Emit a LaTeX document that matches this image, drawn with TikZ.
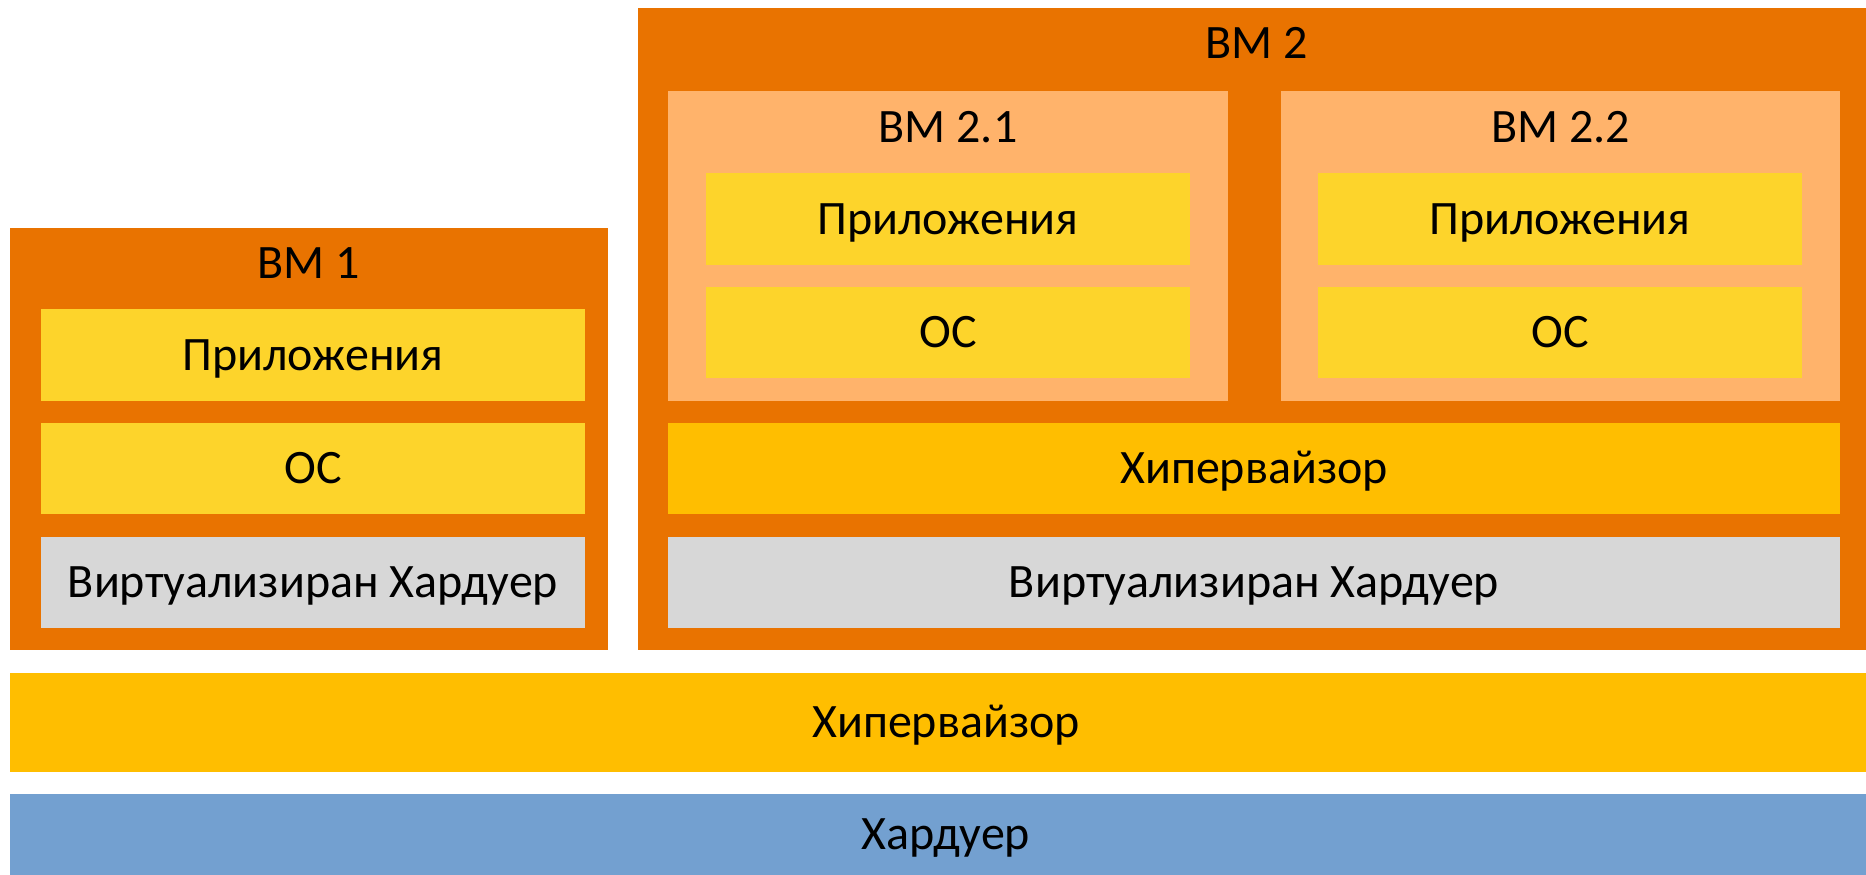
\documentclass[tikz,border=0pt]{standalone}
\usepackage{fontspec}
\setmainfont{Carlito}
\definecolor{vmorange}{RGB}{233,115,0}
\definecolor{vmlight}{RGB}{255,179,107}
\definecolor{appyellow}{RGB}{253,212,43}
\definecolor{hypgold}{RGB}{255,190,0}
\definecolor{vhwgray}{RGB}{215,215,215}
\definecolor{hwblue}{RGB}{115,160,208}
\tikzset{
  layer/.style={rectangle, inner sep=0pt, draw=none, text=black,
    font=\fontsize{48}{58}\selectfont, text height=30.4pt, text depth=0pt},
  vmlabel/.style={inner sep=0pt, anchor=base, text=black,
    font=\fontsize{48}{58}\selectfont},
}
\begin{document}
\begin{tikzpicture}[x=1pt,y=-1pt]
\useasboundingbox[fill=white] (0,0) rectangle (1866,875);
\begin{scope}
\clip (0,0) rectangle (1866,875);
% VM 1
\node[layer, fill=vmorange, minimum width=598pt, minimum height=422pt] (vm1) at (309,439) {};
\node[vmlabel] (vm1t) at (309,278) {ВМ 1};
\node[layer, fill=appyellow, minimum width=544pt, minimum height=92pt] (app1) at (313,355) {Приложения};
\node[layer, fill=appyellow, minimum width=544pt, minimum height=91pt] (os1) at (313,468.5) {ОС};
\node[layer, fill=vhwgray, minimum width=544pt, minimum height=91pt] (vhw1) at (313,582.5) {Виртуализиран Хардуер};
% VM 2
\node[layer, fill=vmorange, minimum width=1240pt, minimum height=642pt] (vm2) at (1258,329) {};
\node[vmlabel] (vm2t) at (1257,59) {ВМ 2};
% VM 2.1
\node[layer, fill=vmlight, minimum width=560pt, minimum height=310pt] (vm21) at (948,246) {};
\node[vmlabel] (vm21t) at (948,142) {ВМ 2.1};
\node[layer, fill=appyellow, minimum width=484pt, minimum height=92pt] (app21) at (948,219) {Приложения};
\node[layer, fill=appyellow, minimum width=484pt, minimum height=91pt] (os21) at (948,332.5) {ОС};
% VM 2.2
\node[layer, fill=vmlight, minimum width=559pt, minimum height=310pt] (vm22) at (1560.5,246) {};
\node[vmlabel] (vm22t) at (1560.5,142) {ВМ 2.2};
\node[layer, fill=appyellow, minimum width=484pt, minimum height=92pt] (app22) at (1560,219) {Приложения};
\node[layer, fill=appyellow, minimum width=484pt, minimum height=91pt] (os22) at (1560,332.5) {ОС};
% VM 2 hypervisor and virtual hardware
\node[layer, fill=hypgold, minimum width=1172pt, minimum height=91pt] (hyp2) at (1254,468.5) {Хипервайзор};
\node[layer, fill=vhwgray, minimum width=1172pt, minimum height=91pt] (vhw2) at (1254,582.5) {Виртуализиран Хардуер};
% host
\node[layer, fill=hypgold, minimum width=1872pt, minimum height=99pt] (hyp) at (946,722.5) {Хипервайзор};
\node[layer, fill=hwblue, minimum width=1872pt, minimum height=81pt] (hw) at (946,834.5) {Хардуер};
\end{scope}
\end{tikzpicture}
\end{document}
